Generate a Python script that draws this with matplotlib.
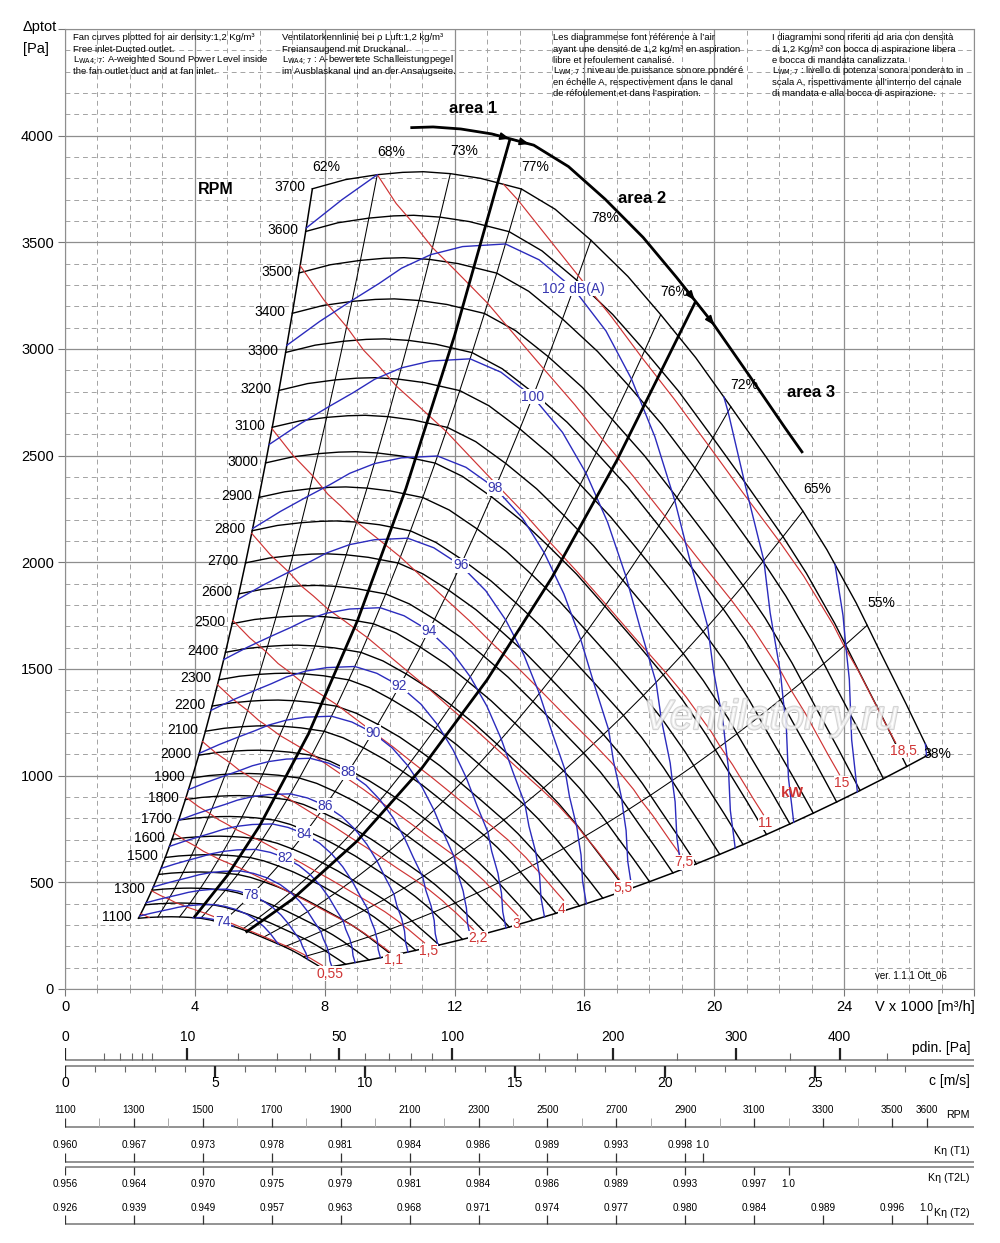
import numpy as np
import matplotlib
matplotlib.use("Agg")
import matplotlib.pyplot as plt
import matplotlib.patheffects as pe
from matplotlib import font_manager

plt.rcParams["font.family"] = ["Liberation Sans", "DejaVu Sans"]
_names = {f.name for f in font_manager.fontManager.ttflist}
HAS_NARROW = "Liberation Sans Narrow" in _names
NARROW = ["Liberation Sans Narrow", "Liberation Sans", "DejaVu Sans"] if HAS_NARROW \
    else ["Liberation Sans", "DejaVu Sans"]
ROW_FS = 8.5 if HAS_NARROW else 7.2

# ==========================================
# DATA
# ==========================================
BASE_RPM = 3700
# 3700 rpm characteristic: V x1000 [m3/h] / dp tot [Pa]
base_V = [7.62, 8.64, 9.62, 10.40, 11.04, 11.87, 12.80, 14.06, 15.10, 16.20, 17.34,
          18.35, 19.43, 20.51, 21.59, 22.73, 23.47, 24.37, 24.71, 25.14, 25.91, 26.28, 26.65]
base_p = [3751, 3794, 3817, 3828, 3831, 3822, 3800, 3750, 3655, 3510, 3340,
          3161, 2959, 2729, 2495, 2240, 2059, 1810, 1705, 1571, 1336, 1219, 1102]
# LwA [dB(A)] and absorbed power [kW] at the same points, 3700 rpm
base_lw = [104.6, 104.3, 104.0, 103.75, 103.5, 103.25, 103.05, 102.85, 102.8, 102.8, 102.95,
           103.2, 103.6, 104.1, 104.7, 105.3, 105.85, 106.4, 106.65, 106.95, 107.6, 107.85, 108.1]
base_kw = [12.8, 14.0, 15.0, 15.9, 16.5, 17.3, 18.0, 18.9, 19.5, 19.9, 20.2,
           20.4, 20.5, 20.5, 20.5, 20.4, 20.3, 20.2, 20.2, 20.1, 20.1, 20.05, 20.0]
KW_STOP = 22              # the kW lines stop short of the last point

rpm_list = [1100, 1200, 1300, 1400, 1500, 1600, 1700, 1800, 1900, 2000, 2100, 2200, 2300,
            2400, 2500, 2600, 2700, 2800, 2900, 3000, 3100, 3200, 3300, 3400, 3500, 3600, 3700]
rpm_labelled = [1100, 1300, 1500, 1600, 1700, 1800, 1900, 2000, 2100, 2200, 2300, 2400, 2500,
                2600, 2700, 2800, 2900, 3000, 3100, 3200, 3300, 3400, 3500, 3600, 3700]

eff_idx = [0, 2, 5, 7, 9, 11, 13, 15, 18, 22]
eff_labels = ["62%", "68%", "73%", "77%", "78%", "76%", "72%", "65%", "55%", "38%"]

db_levels = [74, 76, 78, 80, 82, 84, 86, 88, 90, 92, 94, 96, 98, 100, 102, 104, 106, 108]
db_labelled = [74, 78, 82, 84, 86, 88, 90, 92, 94, 96, 98, 100, 102]
DB_LABEL_IDX = 9          # the dB labels sit on the 78 % line

kw_levels = [0.37, 0.55, 1.1, 1.5, 2.2, 3, 4, 5.5, 7.5, 11, 15, 18.5]
kw_labels = ["", "0,55", "1,1", "1,5", "2,2", "3", "4", "5,5", "7,5", "11", "15", "18,5"]

AREA_RPM = 3800           # thick limit arc
arc_first, arc_last = 3, 14
arc_end_V, arc_end_p = 22.7, 2518
area1_V = [4.0, 5.0, 6.0, 7.5, 9.0, 10.5, 12.0, 13.7]
area1_p = [340, 532, 766, 1196, 1723, 2345, 3063, 3980]
area2_V = [5.6, 7.0, 9.0, 11.0, 13.0, 15.0, 17.0, 19.4]
area2_p = [269, 420, 694, 1037, 1449, 1929, 2478, 3215]

# lower scales
pdin_major = [0, 10, 50, 100, 200, 300, 400]
pdin_minor = [1, 2, 3, 4, 5, 20, 30, 40, 60, 70, 80, 90, 150, 175, 250, 350, 450]
c_major = [0, 5, 10, 15, 20, 25]
c_minor = list(range(0, 29))
rpm_scale = [1100, 1300, 1500, 1700, 1900, 2100, 2300, 2500, 2700, 2900, 3100, 3300, 3500, 3600]
rpm_scale_minor = [1200, 1400, 1600, 1800, 2000, 2200, 2400, 2600, 2800, 3000, 3200, 3400]
k_t1_rpm = [1100, 1300, 1500, 1700, 1900, 2100, 2300, 2500, 2700, 2900, 2950]
k_t1 = ["0.960", "0.967", "0.973", "0.978", "0.981", "0.984", "0.986", "0.989", "0.993", "0.998", "1.0"]
k_t2l_rpm = [1100, 1300, 1500, 1700, 1900, 2100, 2300, 2500, 2700, 2900, 3100, 3200]
k_t2l = ["0.956", "0.964", "0.970", "0.975", "0.979", "0.981", "0.984", "0.986", "0.989", "0.993", "0.997", "1.0"]
k_t2_rpm = [1100, 1300, 1500, 1700, 1900, 2100, 2300, 2500, 2700, 2900, 3100, 3300, 3500, 3600]
k_t2 = ["0.926", "0.939", "0.949", "0.957", "0.963", "0.968", "0.971", "0.974", "0.977", "0.980",
        "0.984", "0.989", "0.996", "1.0"]

notes = {
    73: ["Fan curves plotted for air density:1,2 Kg/m³", "Free inlet-Ducted outlet.",
         r"L$_{\rm WA4;7}$: A-weighted Sound Power Level inside", "the fan outlet duct and at fan inlet."],
    282: ["Ventilatorkennlinie bei ρ Luft:1,2 kg/m³", "Freiansaugend mit Druckanal.",
          r"L$_{\rm WA4;7}$ : A-bewertete Schalleistungpegel", "im Ausblaskanal und an der Ansaugseite."],
    553: ["Les diagrammese font référence à l’air", "ayant une densité de 1,2 kg/m³ en aspiration",
          "libre et refoulement canalisé.", r"L$_{\rm WM;7}$ : niveau de puissance sonore pondéré",
          "en échelle A, respectivement dans le canal", "de réfoulement et dans l’aspiration."],
    772: ["I diagrammi sono riferiti ad aria con densità", "di 1,2 Kg/m³ con bocca di aspirazione libera",
          "e bocca di mandata canalizzata.", r"L$_{\rm WM;7}$ : livello di potenza sonora ponderato in",
          "scala A, rispettivamente all’interno del canale", "di mandata e alla bocca di aspirazione."],
}

# ==========================================
# STYLE
# ==========================================
BLUE, BLUE_TXT, RED = "#2b2bbd", "#3636b0", "#cf3434"
GRID, GRID_MINOR = "#8e8e8e", "#a3a3a3"
SCALE_LINE = "#808080"
W, H = 1000, 1243

V3, P3 = np.array(base_V), np.array(base_p)
LW, KW = np.array(base_lw), np.array(base_kw)
R_MIN = rpm_list[0] / BASE_RPM
R_RPM = np.array(rpm_list) / BASE_RPM


def family(r, stop=None):
    """Fan-law copies of the 3700 rpm points, kept between 1100 and 3700 rpm."""
    inside = lambda x: R_MIN - 1e-9 <= x <= 1 + 1e-9
    segs, cur = [], []
    for i in range(stop or len(r)):
        if i > 0 and inside(r[i]) != inside(r[i - 1]):
            a, b = r[i - 1], r[i]
            out = b if inside(a) else a
            bound = 1.0 if out > 1 else R_MIN
            t = (bound - a) / (b - a)
            vc = V3[i - 1] + t * (V3[i] - V3[i - 1])
            pc = P3[i - 1] + t * (P3[i] - P3[i - 1])
            cur.append((bound * vc, bound ** 2 * pc))
            if inside(a):
                segs.append(cur)
                cur = []
        if inside(r[i]):
            cur.append((r[i] * V3[i], r[i] ** 2 * P3[i]))
    if cur:
        segs.append(cur)
    return [np.array(s).T for s in segs if len(s) > 1]


fig = plt.figure(figsize=(W / 100, H / 100), dpi=100)


def frame(x0, top, w, h):
    return fig.add_axes([x0 / W, 1 - (top + h) / H, w / W, h / H])


# ==========================================
# MAIN DIAGRAM
# ==========================================
ax = frame(65, 29, 909, 960)
ax.set_xlim(0, 28)
ax.set_ylim(0, 4500)
ax.set_xticks(np.arange(0, 29, 4))
ax.set_xticks(np.arange(0, 29, 1), minor=True)
ax.set_yticks(np.arange(0, 4501, 500))
ax.set_yticks(np.arange(0, 4501, 100), minor=True)
ax.set_xticklabels([str(v) for v in range(0, 25, 4)] + [""])
ax.set_yticklabels([str(v) for v in range(0, 4001, 500)] + [""])
ax.grid(which="major", color=GRID, lw=0.9)
ax.grid(which="minor", color=GRID_MINOR, lw=0.7, ls=(0, (5, 4)))
ax.set_axisbelow(True)
ax.tick_params(which="major", length=5, width=0.8, color="#777777", labelsize=10.5, pad=3)
ax.tick_params(axis="x", which="minor", length=3, width=0.6, color="#888888")
ax.tick_params(axis="y", which="minor", length=0)
for s in ax.spines.values():
    s.set_color(GRID)

# efficiency (system) parabolas
for j, lab in zip(eff_idx, eff_labels):
    lw = 1.1 if j in (eff_idx[0], eff_idx[-1]) else 0.75
    ax.plot(R_RPM * V3[j], R_RPM ** 2 * P3[j], color="k", lw=lw, zorder=2)
    off = (5, 0) if j == eff_idx[-1] else (10, 16)
    ax.annotate(lab, (V3[j], P3[j]), xytext=off, textcoords="offset points",
                ha="center", va="center", fontsize=10, zorder=7)

# rpm curves
for r in R_RPM:
    ax.plot(r * V3, r ** 2 * P3, color="k", lw=1.0, zorder=3)
for n in rpm_labelled:
    r = n / BASE_RPM
    ax.annotate(str(n), (r * V3[0], r ** 2 * P3[0]), xytext=(-5, 1), textcoords="offset points",
                ha="right", va="center", fontsize=10, zorder=7)

# absorbed power lines
for P, lab in zip(kw_levels, kw_labels):
    segs = family((P / KW) ** (1 / 3), stop=KW_STOP)
    for sv, sp in segs:
        ax.plot(sv, sp, color=RED, lw=0.85, zorder=3.5)
    if lab and segs:
        ax.annotate(lab, (segs[-1][0][-1], segs[-1][1][-1]), xytext=(-4, -1),
                    textcoords="offset points", ha="left", va="top", color=RED,
                    fontsize=10, zorder=7,
                    bbox=dict(fc="white", ec="none", pad=0.2))

# sound power contours
for L in db_levels:
    for sv, sp in family(10 ** ((L - LW) / 55)):
        ax.plot(sv, sp, color=BLUE, lw=1.0, zorder=4)
for L in db_labelled:
    rl = 10 ** ((L - LW[DB_LABEL_IDX]) / 55)
    ax.text(rl * V3[DB_LABEL_IDX], rl ** 2 * P3[DB_LABEL_IDX], "102 dB(A)" if L == 102 else str(L),
            color=BLUE_TXT, fontsize=10, ha="center", va="center", zorder=7,
            bbox=dict(fc="white", ec="none", pad=0.4))

# area limits
ra = AREA_RPM / BASE_RPM
arc_V = np.append(ra * V3[arc_first:arc_last + 1], arc_end_V)
arc_p = np.append(ra ** 2 * P3[arc_first:arc_last + 1], arc_end_p)
ax.plot(arc_V, arc_p, color="k", lw=2.0, zorder=5)
ax.plot(area1_V, area1_p, color="k", lw=2.0, zorder=5)
ax.plot(area2_V, area2_p, color="k", lw=2.0, zorder=5)
for jv in (area1_V[-1], area2_V[-1]):
    for a, b in ((jv - 0.55, jv), (jv + 0.05, jv + 0.6)):
        ax.annotate("", xy=(b, np.interp(b, arc_V, arc_p)), xytext=(a, np.interp(a, arc_V, arc_p)),
                    arrowprops=dict(arrowstyle="-|>,head_length=0.55,head_width=0.22",
                                    color="k", lw=1.2, shrinkA=0, shrinkB=0), zorder=6)

txt = dict(fontsize=12, fontweight="bold", ha="center", va="center", zorder=7)
ax.text(12.58, 4127, "area 1", **txt)
ax.text(17.77, 3705, "area 2", **txt)
ax.text(22.98, 2795, "area 3", **txt)
ax.text(4.63, 3747, "RPM", fontsize=11.5, fontweight="bold", ha="center", va="center")
ax.text(22.4, 919, "kW", color=RED, fontsize=11, fontweight="bold", ha="center", va="center", zorder=7)
ax.text(27.15, 66, "ver. 1.1.1 Ott_06", fontsize=7, ha="right", va="center")
ax.text(21.75, 1270, "Ventilatorry.ru", fontsize=30, style="italic", color="white", alpha=0.6,
        ha="center", va="center", zorder=6,
        path_effects=[pe.withStroke(linewidth=1.6, foreground="#b8b8b8")])

for x0, lines in notes.items():
    for k, line in enumerate(lines):
        fig.text(x0 / W, 1 - (38 + 11.2 * k) / H, line, fontsize=6.8, ha="left", va="center")

fig.text(23 / W, 1 - 27 / H, "Δptot", fontsize=10.5, ha="left", va="center")
fig.text(23 / W, 1 - 49 / H, "[Pa]", fontsize=10.5, ha="left", va="center")
fig.text(975 / W, 1 - 1007 / H, "V x 1000 [m³/h]", fontsize=10.5, ha="right", va="center")

# ==========================================
# LOWER SCALES
# ==========================================
C_PX = 30.0                 # px per m/s
C_MAX = 909 / C_PX
RPM_PX = 0.3446             # px per rpm
RPM_MAX = 1100 + 909 / RPM_PX

# dynamic pressure (quadratic in c)
ax_pd = frame(65, 1025, 909, 36)
ax_pd.set_xscale("function", functions=(lambda q: np.sqrt(np.clip(q, 0, None) / 0.6),
                                        lambda c: 0.6 * np.square(c)))
ax_pd.set_xlim(0, 0.6 * C_MAX ** 2)
ax_pd.set_ylim(36, 0)
ax_pd.axis("off")
ax_pd.plot([0, 0.6 * C_MAX ** 2], [35, 35], color=SCALE_LINE, lw=1.2)
ax_pd.vlines(pdin_minor, 28, 35, color="#666666", lw=0.8)
ax_pd.vlines(pdin_major, 23, 35, color="#222222", lw=1.6)
for v in pdin_major:
    ax_pd.text(v, 12, str(v), ha="center", va="center", fontsize=10)
fig.text(970 / W, 1 - 1048 / H, "pdin. [Pa]", fontsize=10, ha="right", va="center")

# outlet velocity
ax_c = frame(65, 1062, 909, 30)
ax_c.set_xlim(0, C_MAX)
ax_c.set_ylim(30, 0)
ax_c.axis("off")
ax_c.plot([0, C_MAX], [4, 4], color=SCALE_LINE, lw=1.2)
ax_c.vlines(c_minor, 4, 10, color="#666666", lw=0.8)
ax_c.vlines(c_major, 4, 16, color="#222222", lw=1.6)
for v in c_major:
    ax_c.text(v, 21, str(v), ha="center", va="center", fontsize=10)
fig.text(970 / W, 1 - 1081 / H, "c [m/s]", fontsize=10, ha="right", va="center")


def rpm_row(top, h, line_y, tick, lab_y, xs, labels, minor=None):
    a = frame(65, top, 909, h)
    a.set_xlim(1100, RPM_MAX)
    a.set_ylim(h, 0)
    a.axis("off")
    a.plot([1100, RPM_MAX], [line_y, line_y], color=SCALE_LINE, lw=1.2)
    if minor:
        a.vlines(minor, tick[0], tick[1], color="#aaaaaa", lw=0.7)
    a.vlines(xs, tick[0], tick[1], color="#333333", lw=0.9)
    for k, (x, s) in enumerate(zip(xs, labels)):
        # a label crowded by its right neighbour is pushed a little to the left
        crowded = k + 1 < len(xs) and (xs[k + 1] - x) * RPM_PX < 25
        a.annotate(s, (x, lab_y), xytext=(-4 if crowded else 0, 0), textcoords="offset points",
                   ha="center", va="center", fontsize=ROW_FS, family=NARROW)


rpm_row(1100, 30, 27, (18, 27), 10, rpm_scale, [str(v) for v in rpm_scale], rpm_scale_minor)
rpm_row(1136, 28, 26, (17, 26), 9, k_t1_rpm, k_t1)
rpm_row(1165, 26, 2, (2, 10), 19, k_t2l_rpm, k_t2l)
rpm_row(1198, 30, 26, (17, 26), 10, k_t2_rpm, k_t2)
for y, s in ((1115, "RPM"), (1151, "Kη (T1)"), (1178, "Kη (T2L)"), (1213, "Kη (T2)")):
    fig.text(970 / W, 1 - y / H, s, fontsize=ROW_FS + 0.5, ha="right", va="center", family=NARROW)

fig.savefig("out.png", dpi=100)
